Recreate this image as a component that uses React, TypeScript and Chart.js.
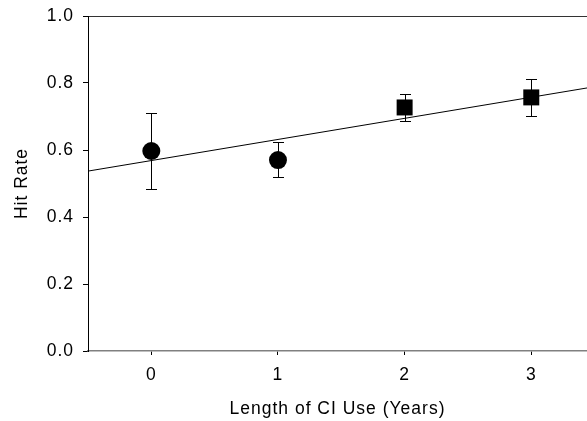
import React, { useEffect, useRef } from "react";
import { Chart, registerables } from "chart.js";

Chart.register(...registerables);

// Data
const circleX = [0, 1];
const circleY = [0.597, 0.57];
const circleHi = [0.711, 0.623];
const circleLo = [0.484, 0.519];

const squareX = [2, 3];
const squareY = [0.727, 0.757];
const squareHi = [0.767, 0.812];
const squareLo = [0.687, 0.701];

const fitX = [-0.5, 3.5];
const fitY = [0.537, 0.789];

const xTicks = [0, 1, 2, 3];
const yTicks = [0, 0.2, 0.4, 0.6, 0.8, 1.0];

const xTitle = "Length of CI Use (Years)";
const yTitle = "Hit Rate";

const FONT = "'Liberation Sans', Arial, sans-serif";
const FSIZE = 17.5;

const spacingPlugin = {
  id: "letterSpacing",
  beforeDraw(chart: any) {
    try {
      (chart.ctx as any).letterSpacing = "1px";
    } catch (e) {}
  },
};

const errorBarPlugin = {
  id: "errorBars",
  afterDatasetsDraw(chart: any) {
    const { ctx, scales } = chart;
    const xs = scales.x;
    const ys = scales.y;
    const groups = [
      { x: circleX, hi: circleHi, lo: circleLo },
      { x: squareX, hi: squareHi, lo: squareLo },
    ];
    ctx.save();
    ctx.strokeStyle = "#000";
    ctx.lineWidth = 1;
    const cap = 5.5;
    groups.forEach((g) => {
      g.x.forEach((xv, i) => {
        const px = Math.round(xs.getPixelForValue(xv)) + 0.5;
        const pHi = Math.round(ys.getPixelForValue(g.hi[i])) + 0.5;
        const pLo = Math.round(ys.getPixelForValue(g.lo[i])) + 0.5;
        ctx.beginPath();
        ctx.moveTo(px, pHi);
        ctx.lineTo(px, pLo);
        ctx.moveTo(px - cap, pHi);
        ctx.lineTo(px + cap, pHi);
        ctx.moveTo(px - cap, pLo);
        ctx.lineTo(px + cap, pLo);
        ctx.stroke();
      });
    });
    ctx.restore();
  },
};

const zeroPad = (axis: any) => {
  axis.paddingTop = 0;
  axis.paddingBottom = 0;
  axis.paddingLeft = 0;
  axis.paddingRight = 0;
};

export default function App() {
  const ref = useRef<HTMLCanvasElement | null>(null);

  useEffect(() => {
    if (!ref.current) return;
    const chart = new Chart(ref.current, {
      type: "scatter",
      data: {
        datasets: [
          {
            type: "line",
            data: fitX.map((x, i) => ({ x, y: fitY[i] })),
            borderColor: "#000",
            borderWidth: 1,
            pointRadius: 0,
            fill: false,
          } as any,
          {
            data: circleX.map((x, i) => ({ x, y: circleY[i] })),
            pointStyle: "circle",
            pointRadius: 9,
            pointBorderWidth: 0,
            backgroundColor: "#000",
            borderColor: "#000",
          },
          {
            data: squareX.map((x, i) => ({ x, y: squareY[i] })),
            pointStyle: "rect",
            pointRadius: 11.3,
            pointBorderWidth: 0,
            backgroundColor: "#000",
            borderColor: "#000",
          },
        ],
      },
      options: {
        animation: false,
        responsive: false,
        maintainAspectRatio: false,
        layout: { autoPadding: false, padding: { top: 16, left: 0, right: 0, bottom: 0 } },
        plugins: {
          legend: { display: false },
          tooltip: { enabled: false },
        },
        scales: {
          x: {
            type: "linear",
            position: "bottom",
            min: -0.5,
            max: 3.44,
            afterBuildTicks: (axis: any) => {
              axis.ticks = xTicks.map((v) => ({ value: v }));
            },
            afterFit: (axis: any) => {
              axis.height = 70;
              zeroPad(axis);
            },
            grid: {
              display: true,
              drawOnChartArea: false,
              drawTicks: true,
              tickLength: 4,
              color: "#000",
            },
            border: { display: true, color: "#808080", width: 1.5 },
            ticks: {
              color: "#000",
              padding: 10,
              font: { family: FONT, size: FSIZE },
              callback: (v: any) => String(v),
            },
            title: {
              display: true,
              text: xTitle,
              color: "#000",
              font: { family: FONT, size: FSIZE },
              padding: { top: 0, bottom: 1 },
            },
          },
          x2: {
            type: "linear",
            position: "top",
            display: true,
            min: -0.5,
            max: 3.44,
            afterFit: (axis: any) => {
              axis.height = 0;
              zeroPad(axis);
            },
            grid: { display: false, drawTicks: false },
            border: { display: true, color: "#333", width: 1 },
            ticks: { display: false },
          },
          y: {
            type: "linear",
            min: 0,
            max: 1,
            afterBuildTicks: (axis: any) => {
              axis.ticks = yTicks.map((v) => ({ value: v }));
            },
            afterFit: (axis: any) => {
              axis.width = 88;
              zeroPad(axis);
            },
            grid: {
              display: true,
              drawOnChartArea: false,
              drawTicks: true,
              tickLength: 5,
              color: "#000",
            },
            border: { display: true, color: "#000", width: 1 },
            ticks: {
              color: "#000",
              padding: 9,
              font: { family: FONT, size: FSIZE },
              callback: (v: any) => Number(v).toFixed(1),
            },
            title: {
              display: true,
              text: yTitle,
              color: "#000",
              font: { family: FONT, size: FSIZE },
              padding: { top: 12, bottom: 0 },
            },
          },
        },
      } as any,
      plugins: [spacingPlugin, errorBarPlugin],
    });
    return () => chart.destroy();
  }, []);

  return (
    <div style={{ position: "absolute", left: 0, top: 0, width: 587, height: 421, background: "#fff" }}>
      <canvas ref={ref} width={587} height={421} style={{ display: "block", width: 587, height: 421 }} />
    </div>
  );
}
